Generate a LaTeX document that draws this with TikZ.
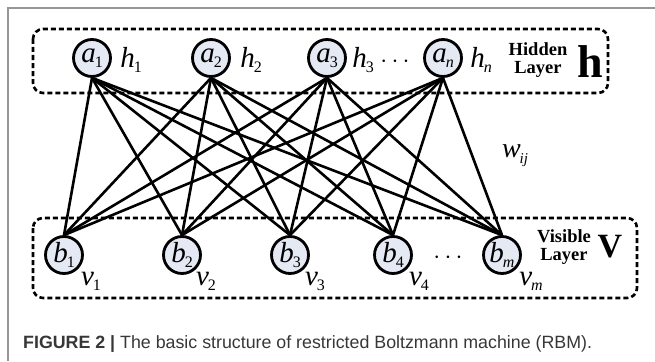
\documentclass[tikz,border=0pt]{standalone}
\usepackage{fontspec}
\setmainfont{Liberation Serif}
\newfontfamily\capfont{Liberation Sans}
\definecolor{unitfill}{RGB}{228,233,244}
\definecolor{framegray}{RGB}{150,150,150}
\definecolor{captext}{RGB}{55,55,55}
% italic letter with an upright (or given) subscript
\newcommand{\unitlbl}[2]{{\fontsize{29}{29}\selectfont\itshape #1}\kern-1pt\raisebox{-5pt}{\fontsize{16}{16}\selectfont #2}}
\newcommand{\sidelbl}[2]{{\fontsize{29}{29}\selectfont\itshape #1}\kern-1pt\raisebox{-5pt}{\fontsize{16}{16}\selectfont #2}}
\begin{document}
\begin{tikzpicture}[x=1pt,y=-1pt,
  unit/.style={circle,draw,line width=2.8pt,fill=unitfill,minimum size=37pt,inner sep=0pt},
  layerbox/.style={draw,line width=2.6pt,dash pattern=on 5pt off 3pt,rounded corners=10pt},
  link/.style={line width=2.6pt},
  side/.style={inner sep=0pt},
  layername/.style={font=\bfseries\fontsize{18.5}{18.5}\selectfont,align=center,inner sep=0pt},
  bigsym/.style={font=\bfseries,inner sep=0pt}]
\useasboundingbox (0,0) rectangle (655,361);
% figure frame (top and left rules)
\draw[framegray,line width=2pt] (655,8) -- (8,8) -- (8,361);

% layer boxes
\draw[layerbox] (33,29) rectangle (608,93);
\draw[layerbox] (33,218) rectangle (637,298);

% hidden units
\node[unit] (a1) at (92,58)  {\unitlbl{a}{1}};
\node[unit] (a2) at (211,58) {\unitlbl{a}{2}};
\node[unit] (a3) at (327,58) {\unitlbl{a}{3}};
\node[unit] (an) at (443,58) {\unitlbl{a}{\itshape n}};

% visible units
\node[unit] (b1) at (64,255)  {\unitlbl{b}{1}};
\node[unit] (b2) at (182,255) {\unitlbl{b}{2}};
\node[unit] (b3) at (290,255) {\unitlbl{b}{3}};
\node[unit] (b4) at (393,255) {\unitlbl{b}{4}};
\node[unit] (bm) at (502,255) {\unitlbl{b}{\itshape m}};

% full bipartite connections
\foreach \h in {a1,a2,a3,an}
  \foreach \v in {b1,b2,b3,b4,bm}
    \draw[link] (\h.south) -- (\v.north);

% hidden labels
\node[side] (h1) at (131,60) {\sidelbl{h}{1}};
\node[side] (h2) at (251,60) {\sidelbl{h}{2}};
\node[side] (h3) at (363,60) {\sidelbl{h}{3}};
\node[side] (hdots) at (395,62) {\fontsize{24}{24}\selectfont$\cdots$};
\node[side] (hn) at (481,60) {\sidelbl{h}{\itshape n}};

% visible labels
\node[side] (v1) at (91,281)  {\sidelbl{v}{1}};
\node[side] (v2) at (206,281) {\sidelbl{v}{2}};
\node[side] (v3) at (315,281) {\sidelbl{v}{3}};
\node[side] (v4) at (419,281) {\sidelbl{v}{4}};
\node[side] (vm) at (531,281) {\sidelbl{v}{\itshape m}};
\node[side] (vdots) at (448,258) {\fontsize{24}{24}\selectfont$\cdots$};

% weight label
\node[side] (w) at (515,156) {{\fontsize{28}{28}\selectfont\itshape w}\kern-1pt\raisebox{-6pt}{\fontsize{15}{15}\selectfont\itshape ij}};

% layer names
\node[layername] (hid) at (538,60) {Hidden\\[0pt]Layer};
\node[bigsym] (hsym) at (590,62) {\fontsize{46}{46}\selectfont h};
\node[layername] (vis) at (564,247) {Visible\\[0pt]Layer};
\node[bigsym] (vsym) at (610,247) {\fontsize{34}{34}\selectfont V};

% caption
\node[anchor=west,inner sep=0pt,text=captext] (cap) at (23,344)
  {\capfont\fontsize{17.8}{17.8}\selectfont\textbf{FIGURE 2 |} The basic structure of restricted Boltzmann machine (RBM).};
\end{tikzpicture}
\end{document}
